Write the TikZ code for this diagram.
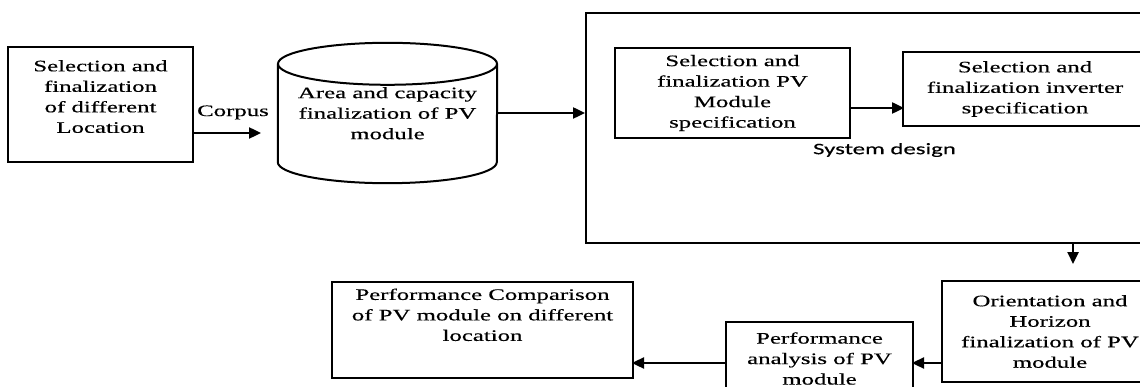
\documentclass[tikz,border=0pt]{standalone}
\usepackage{fontspec}
\setmainfont{Liberation Serif}[FakeStretch=1.55, FakeBold=0.4]
\newfontfamily\calibrifont{Carlito}[FakeStretch=1.55, FakeBold=0.4]
\usetikzlibrary{arrows.meta}
\tikzset{
  txt/.style={font=\fontsize{16}{20.5}\selectfont, align=center},
  block/.style={txt, draw=black, line width=2pt, inner sep=0pt},
  flow/.style={line width=2.4pt, -{Triangle[length=12pt,width=11pt]}},
}
\begin{document}
\begin{tikzpicture}[x=1pt, y=1pt]
  \useasboundingbox (0,0) rectangle (1140,386);
  \fill[white] (0,0) rectangle (1140,386);
  \clip (0,0) rectangle (1140,386);
  % left part
  \node[block, minimum width=185, minimum height=115] (loc) at (100.5,281.5)
    {Selection and\\finalization\\of different\\Location\\[-4.5pt]\mbox{}};
  \node[txt, minimum width=219, minimum height=98] (area) at (387.5,273)
    {\mbox{}\\[-9pt]Area and capacity\\finalization of PV\\module};
  \draw[line width=2pt] (area.north west) -- (area.south west)
    arc[start angle=180, end angle=360, x radius=109.5, y radius=21] -- (area.north east);
  \draw[line width=2pt] (area.north) ellipse[x radius=109.5, y radius=21];
  % system design
  \node[block, minimum width=600, minimum height=230] (sysdesign) at (886,258) {};
  \node[block, minimum width=235, minimum height=90] (pvspec) at (732.5,293)
    {Selection and\\finalization PV\\Module\\specification};
  \node[block, minimum width=244, minimum height=74] (invspec) at (1025,297)
    {Selection and\\finalization inverter\\specification};
  \node[font=\calibrifont\fontsize{16}{20}\selectfont] (syslabel) at (884.5,236) {System design};
  % bottom row
  \node[block, minimum width=216, minimum height=101] (orient) at (1050,54.5)
    {Orientation and\\Horizon\\finalization of PV\\module};
  \node[block, minimum width=187, minimum height=73] (perf) at (819.5,27.5)
    {Performance\\analysis of PV\\module};
  \node[block, minimum width=301, minimum height=96] (comp) at (482.5,56)
    {Performance Comparison\\of PV module on different\\location\\[10pt]\mbox{}};
  % arrows
  \draw[flow] ([yshift=-28.5]loc.east) -- node[txt, above=9pt, xshift=5.5] {Corpus} ++(67,0);
  \draw[flow] (area.east) -- (area.east -| sysdesign.west);
  \draw[flow] ([yshift=-15]pvspec.east) -- ++(53,0);
  \draw[flow] ([xshift=187]sysdesign.south) -- ++(0,-20);
  \draw[flow] ([yshift=-31.5]orient.west) -- ++(-29,0);
  \draw[flow] ([yshift=-4.5]perf.west) -- ++(-93,0);
\end{tikzpicture}
\end{document}
